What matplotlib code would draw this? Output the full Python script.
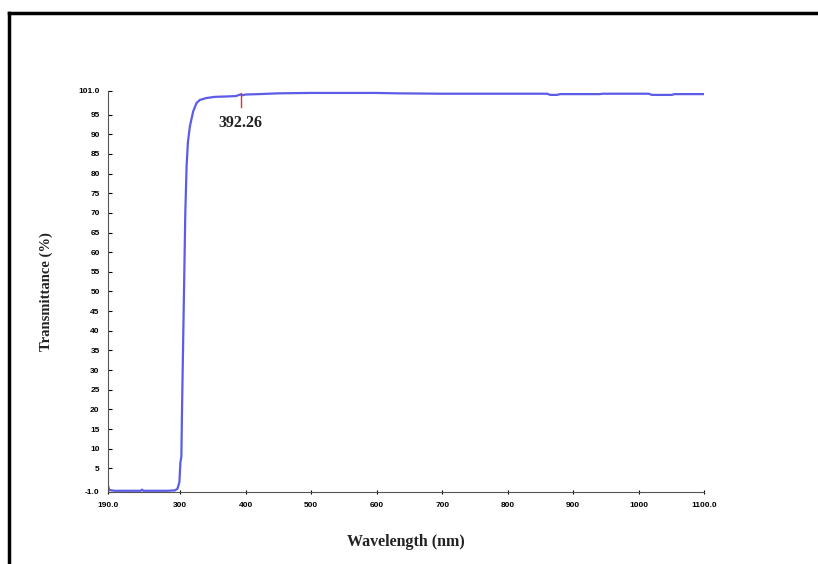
import matplotlib.pyplot as plt
from matplotlib.lines import Line2D

wavelength = [190, 192, 200, 220, 240, 242, 244, 260, 280, 292, 296, 299, 300.5, 302, 303, 304,
              306, 308, 310, 312, 315, 320, 325, 330, 340, 353, 370, 385, 392, 395, 400, 420,
              450, 500, 600, 630, 700, 800, 860, 865, 875, 880, 940, 945, 1015, 1020, 1050,
              1055, 1100]
transmittance = [0.6, -0.5, -0.7, -0.7, -0.7, -0.4, -0.7, -0.7, -0.7, -0.6, -0.2, 1.5, 6.5, 8,
                 20, 30, 50, 70, 82, 88, 92, 95.8, 97.9, 98.7, 99.2, 99.5, 99.6, 99.7, 100.1,
                 99.9, 100.1, 100.2, 100.4, 100.5, 100.5, 100.4, 100.3, 100.3, 100.3, 100.0,
                 100.0, 100.2, 100.2, 100.3, 100.3, 100.0, 100.0, 100.2, 100.2]

x_ticks = [190, 300, 400, 500, 600, 700, 800, 900, 1000, 1100]
x_labels = ["190.0", "300", "400", "500", "600", "700", "800", "900", "1000", "1100.0"]
y_ticks = [-1, 5, 10, 15, 20, 25, 30, 35, 40, 45, 50, 55, 60, 65, 70, 75, 80, 85, 90, 95, 101]
y_labels = ["-1.0"] + [str(v) for v in y_ticks[1:-1]] + ["101.0"]

peak_x = 392.26

fig = plt.figure(figsize=(8.18, 5.64), dpi=100)
ax = fig.add_axes([0.132, 0.1277, 0.729, 0.711])

ax.plot(wavelength, transmittance, color="#5c5ce8", linewidth=1.6)

# marca del pico
ax.plot([peak_x, peak_x], [96.9, 100.5], color="#e03030", linewidth=1)
ax.text(peak_x, 95.0, "392.26", fontfamily="Liberation Serif", fontsize=11.5,
        fontweight="bold", ha="center", va="top", color="#222222")

ax.set_xlim(190, 1100)
ax.set_ylim(-1, 101)
ax.set_xticks(x_ticks)
ax.set_xticklabels(x_labels)
ax.set_yticks(y_ticks)
ax.set_yticklabels(y_labels)
for lbl in ax.get_xticklabels() + ax.get_yticklabels():
    lbl.set_fontfamily("Liberation Sans")
    lbl.set_fontweight("bold")
    lbl.set_fontsize(6)
ax.tick_params(axis="y", direction="in", length=3, width=0.8, pad=6)
ax.tick_params(axis="x", direction="inout", length=3, width=0.8, pad=6)

ax.spines["top"].set_visible(False)
ax.spines["right"].set_visible(False)
ax.spines["left"].set_color("#555555")
ax.spines["bottom"].set_color("#555555")

ax.set_xlabel("Wavelength (nm)", fontfamily="Liberation Serif", fontsize=11.5,
              fontweight="bold", color="#222222", labelpad=18)
ax.set_ylabel("Transmittance (%)", fontfamily="Liberation Serif", fontsize=10.5,
              fontweight="bold", color="#222222", labelpad=18)

# marco negro de la figura
fig.add_artist(Line2D([0.0116, 1.0], [0.977, 0.977], color="black", linewidth=2.5,
                      transform=fig.transFigure))
fig.add_artist(Line2D([0.0116, 0.0116], [0.0, 0.977], color="black", linewidth=2.5,
                      transform=fig.transFigure))

fig.savefig("out.png", dpi=100)
